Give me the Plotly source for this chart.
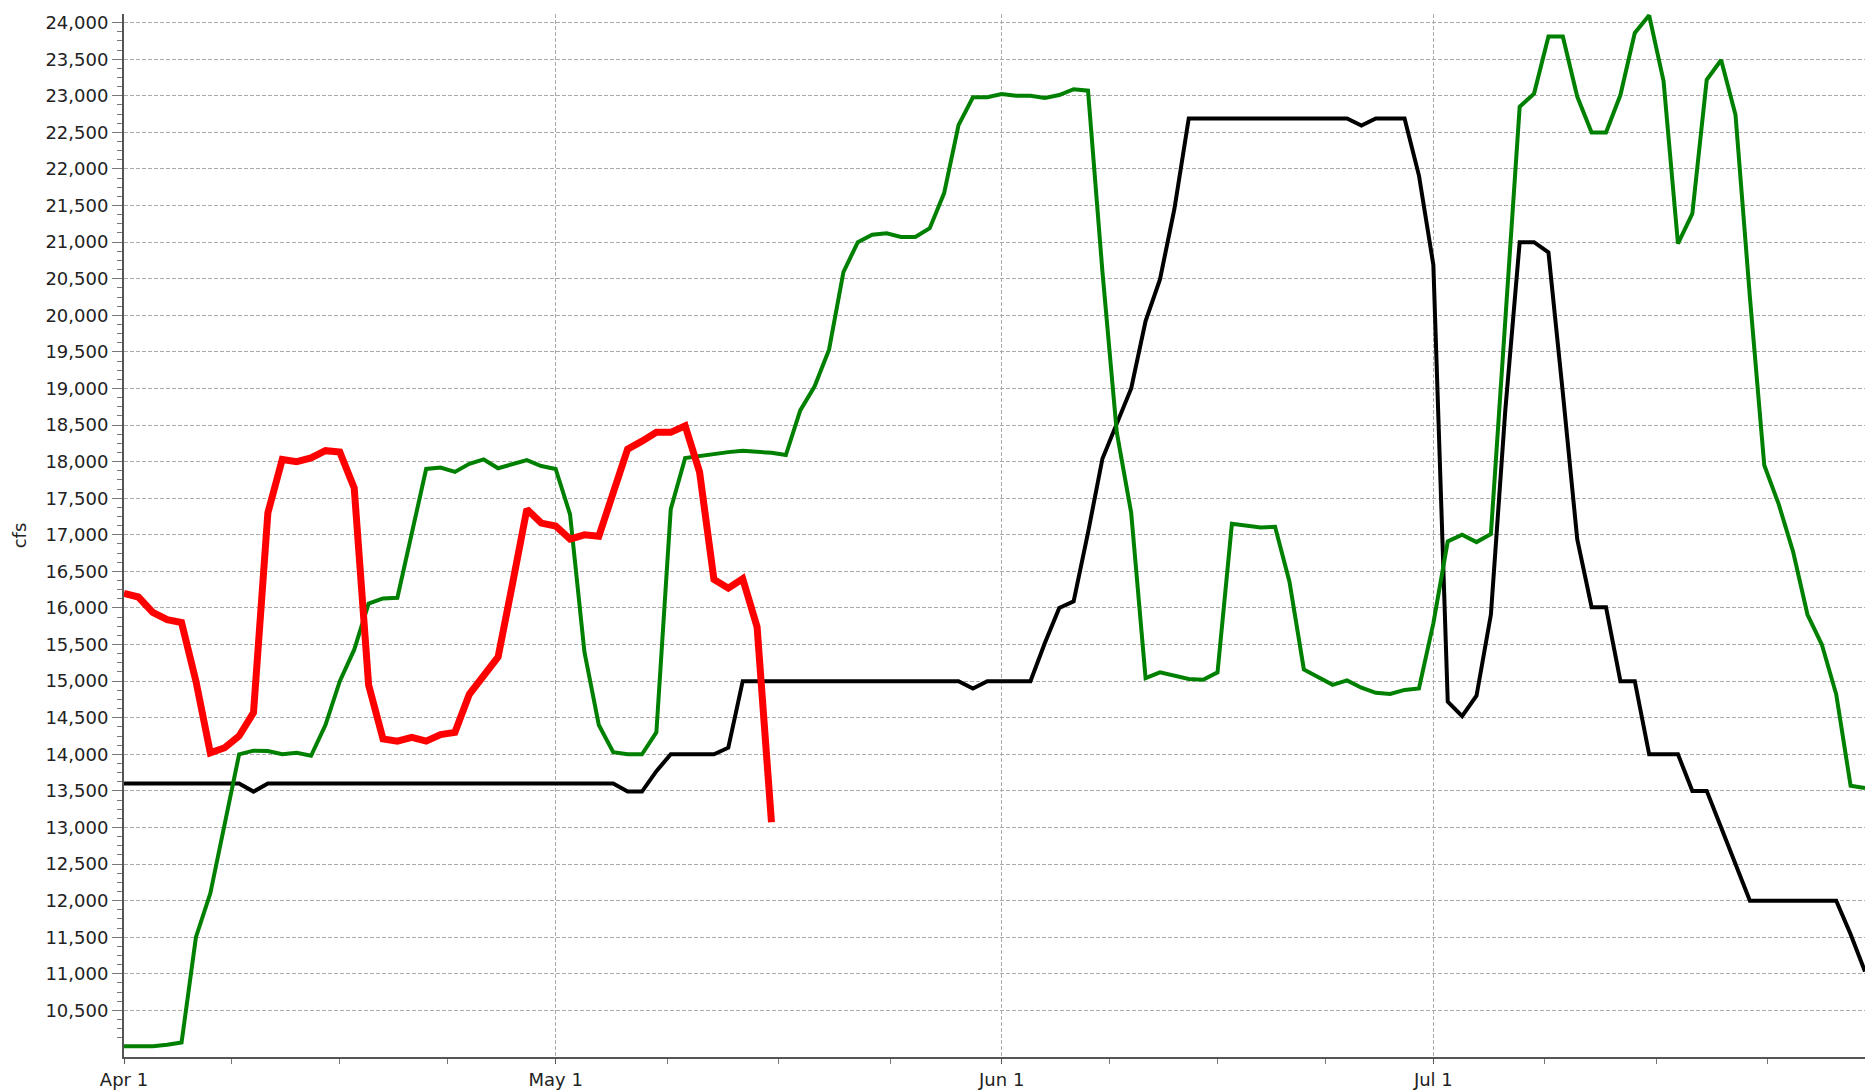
import pandas as pd
import plotly.graph_objects as go

start_date = "2021-04-01"
end_date = "2021-07-31"

red_values = [16200, 16150, 15940, 15840, 15800, 15000, 14020, 14090, 14250, 14570,
              17300, 18030, 18000, 18050, 18150, 18130, 17640, 14950, 14210, 14180,
              14230, 14180, 14270, 14300, 14820, 15080, 15330, 16330, 17350, 17160,
              17120, 16940, 17000, 16980, 17560, 18170, 18280, 18400, 18400, 18490,
              17860, 16390, 16270, 16400, 15740, 13070]

green_values = [10010, 10005, 10010, 10030, 10060, 11500, 12100, 13050, 14000, 14050,
                14045, 14000, 14020, 13980, 14400, 15000, 15430, 16060, 16130, 16140,
                17030, 17900, 17920, 17860, 17970, 18030, 17910, 17960, 18020, 17940,
                17900, 17280, 15400, 14400, 14030, 14000, 14000, 14300, 17350, 18050,
                18080, 18100, 18130, 18150, 18140, 18120, 18090, 18700, 19030, 19530,
                20590, 21000, 21100, 21120, 21070, 21070, 21190, 21670, 22600, 22980,
                22980, 23025, 23000, 23000, 22970, 23010, 23090, 23070, 20600, 18400,
                17300, 15040, 15120, 15070, 15030, 15020, 15120, 17150, 17120, 17100,
                17110, 16360, 15160, 15060, 14950, 15010, 14910, 14840, 14825, 14880,
                14900, 15790, 16910, 17000, 16900, 17010, 19940, 22850, 23030, 23810,
                23810, 22990, 22500, 22500, 23010, 23860, 24100, 23200, 20980, 21390,
                23220, 23490, 22740, 20250, 17950, 17420, 16770, 15910, 15500, 14820,
                13570, 13540]

black_values = [13600, 13600, 13600, 13600, 13600, 13600, 13600, 13600, 13600, 13490,
                13600, 13600, 13600, 13600, 13600, 13600, 13600, 13600, 13600, 13600,
                13600, 13600, 13600, 13600, 13600, 13600, 13600, 13600, 13600, 13600,
                13600, 13600, 13600, 13600, 13600, 13490, 13490, 13770, 14000, 14000,
                14000, 14000, 14090, 15000, 15000, 15000, 15000, 15000, 15000, 15000,
                15000, 15000, 15000, 15000, 15000, 15000, 15000, 15000, 15000, 14900,
                15000, 15000, 15000, 15000, 15520, 16000, 16090, 17030, 18040, 18520,
                19000, 19920, 20490, 21450, 22690, 22690, 22690, 22690, 22690, 22690,
                22690, 22690, 22690, 22690, 22690, 22690, 22595, 22690, 22690, 22690,
                21910, 20690, 14720, 14520, 14800, 15910, 18700, 21000, 21000, 20860,
                18940, 16940, 16010, 16010, 15000, 15000, 14000, 14000, 14000, 13500,
                13500, 13000, 12500, 12000, 12000, 12000, 12000, 12000, 12000, 12000,
                11540, 11030]

month_starts = ["2021-04-01", "2021-05-01", "2021-06-01", "2021-07-01"]
month_labels = ["Apr 1", "May 1", "Jun 1", "Jul 1"]
y_tick_values = list(range(10500, 24001, 500))
y_axis_title = "cfs"

green_dates = pd.date_range(start_date, periods=len(green_values), freq="D")
black_dates = pd.date_range(start_date, periods=len(black_values), freq="D")
red_dates = pd.date_range(start_date, periods=len(red_values), freq="D")

# quarter-month minor ticks
bounds = pd.to_datetime(month_starts + ["2021-08-01"])
x_minor = []
for a, b in zip(bounds[:-1], bounds[1:]):
    step = (b - a) / 4
    for k in range(1, 4):
        x_minor.append((a + step * k).strftime("%Y-%m-%d %H:%M:%S"))

y_minor = [v for v in range(10000, 24001, 125) if v % 500 != 0]

fig = go.Figure()
fig.add_trace(go.Scatter(x=black_dates, y=black_values, mode="lines",
                         line=dict(color="#000000", width=4), name="black"))
fig.add_trace(go.Scatter(x=green_dates, y=green_values, mode="lines",
                         line=dict(color="#008000", width=4), name="green"))
fig.add_trace(go.Scatter(x=red_dates, y=red_values, mode="lines",
                         line=dict(color="#ff0000", width=7), name="red"))

font_family = "DejaVu Sans, Verdana, sans-serif"
fs = 18

fig.update_layout(
    width=1865, height=1090,
    margin=dict(l=124, r=0, t=14, b=33),
    paper_bgcolor="white", plot_bgcolor="white",
    showlegend=False,
    font=dict(family=font_family, size=fs, color="#222222"),
)

fig.update_xaxes(
    range=[start_date, end_date],
    tickmode="array", tickvals=month_starts, ticktext=month_labels,
    ticks="outside", ticklen=5, tickcolor="#555555", tickwidth=1,
    showgrid=True, gridcolor="#ababab", gridwidth=1, griddash="4px,2px",
    showline=True, linecolor="#555555", linewidth=2,
    zeroline=False,
    tickfont=dict(size=fs, color="#222222"),
    minor=dict(tickmode="array", tickvals=x_minor, ticks="outside", ticklen=5,
               tickcolor="#777777", tickwidth=1, showgrid=False),
)

fig.update_yaxes(
    range=[9863, 24118],
    tickmode="array", tickvals=y_tick_values,
    tickformat=",d",
    ticks="outside", ticklen=10, tickcolor="#777777", tickwidth=1,
    showgrid=True, gridcolor="#ababab", gridwidth=1, griddash="4px,2px",
    showline=True, linecolor="#555555", linewidth=2,
    zeroline=False,
    tickfont=dict(size=fs, color="#222222"),
    title=dict(text=y_axis_title, font=dict(size=fs, color="#222222"), standoff=14),
    minor=dict(tickmode="array", tickvals=y_minor, ticks="outside", ticklen=5,
               tickcolor="#777777", tickwidth=1, showgrid=False),
)

fig.write_html("out.html", config={"displayModeBar": False},
               post_script="document.body.style.margin='0';")
